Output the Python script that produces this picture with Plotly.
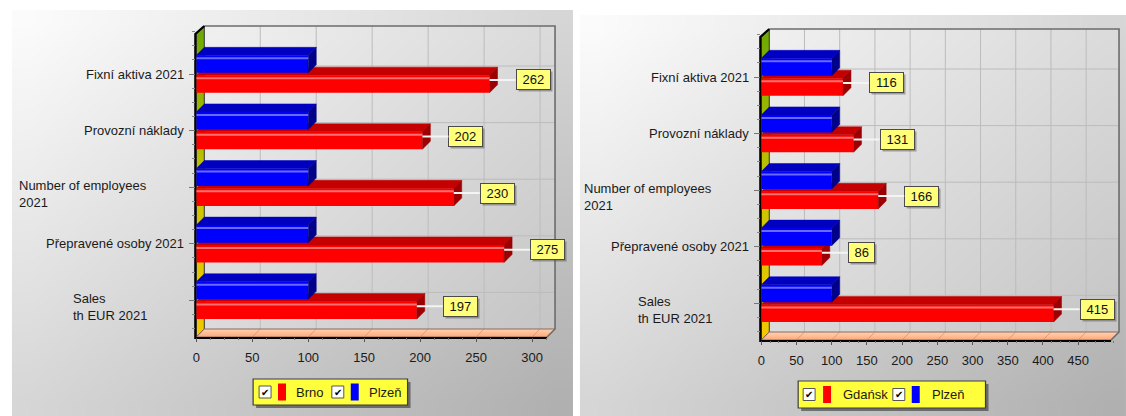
import numpy as np
import plotly.graph_objects as go

W, H = 1126, 416
FONT = "Liberation Sans, Arial, sans-serif"

# ---- data -------------------------------------------------------------
categories = [
    "Fixní aktiva 2021",
    "Provozní náklady",
    "Number of employees<br>2021",
    "Přepravené osoby 2021",
    "Sales<br>th EUR 2021",
]
left_name = "Brno"
right_name = "Gdańsk"
common_name = "Plzeň"
brno_values = [262, 202, 230, 275, 197]
plzen_values_left = [100, 100, 100, 100, 100]
gdansk_values = [116, 131, 166, 86, 415]
plzen_values_right = [100, 100, 100, 100, 100]
left_ticks = [0, 50, 100, 150, 200, 250, 300]
right_ticks = [0, 50, 100, 150, 200, 250, 300, 350, 400, 450]

# ---- styling ----------------------------------------------------------
RED_FRONT, RED_TOP, RED_SIDE, RED_HI = "#ff0000", "#c40000", "#9c0000", "#ff7070"
BLUE_FRONT, BLUE_TOP, BLUE_SIDE, BLUE_HI = "#0000ff", "#0000c0", "#00008a", "#6a6aff"
DEPTH = 8          # 3D depth in pixels
BAR_W = 0.31       # bar thickness in category units
GAP = 0.02         # gap between the two bars of a group

# pixel geometry of the two chart panels
panels = [
    dict(main=(left_name, brno_values), other=(common_name, plzen_values_left),
         ticks=left_ticks, frame=(8, 10, 571, 416), origin=193, floor=337,
         ppu=1.1233, right=553, top=26, c0=74, step=56.6,
         legend=(250, 379, 405, 405), items=[(6, 25, 41), (79, 98, 114)],
         axes=("x2", "y2", "x3", "y3", "x4", "y4")),
    dict(main=(right_name, gdansk_values), other=(common_name, plzen_values_right),
         ticks=right_ticks, frame=(578, 15, 1126, 416), origin=760, floor=340,
         ppu=0.7067, right=1119, top=29, c0=77, step=56.6,
         legend=(797, 381, 985, 408), items=[(5, 25, 43), (95, 114, 132)],
         axes=("x5", "y5", "x6", "y6", "x7", "y7")),
]


def fx(p):
    return p / W


def fy(p):
    return 1 - p / H


def poly_trace(polys, color, xa, ya, line_color=None, line_width=0, gradient=None):
    xs, ys = [], []
    for poly in polys:
        for (x, y) in poly:
            xs.append(x)
            ys.append(y)
        xs += [poly[0][0], None]
        ys += [poly[0][1], None]
    kw = dict(x=xs, y=ys, mode="lines", fill="toself", fillcolor=color,
              line=dict(color=line_color or color, width=line_width),
              hoverinfo="skip", showlegend=False, xaxis=xa, yaxis=ya)
    if gradient is not None:
        kw["fillgradient"] = gradient
    return go.Scatter(**kw)


def line_trace(segments, color, width, xa, ya, dash=None):
    xs, ys = [], []
    for seg in segments:
        for (x, y) in seg:
            xs.append(x)
            ys.append(y)
        xs.append(None)
        ys.append(None)
    return go.Scatter(x=xs, y=ys, mode="lines",
                      line=dict(color=color, width=width, dash=dash),
                      hoverinfo="skip", showlegend=False, xaxis=xa, yaxis=ya)


fig = go.Figure()
layout = dict(
    width=W, height=H, margin=dict(l=0, r=0, t=0, b=0),
    paper_bgcolor="white", plot_bgcolor="rgba(0,0,0,0)",
    showlegend=False, font=dict(family=FONT, size=13, color="#1a1a1a"),
    xaxis=dict(domain=[0, 1], range=[0, W], visible=False, fixedrange=True),
    yaxis=dict(domain=[0, 1], range=[H, 0], visible=False, fixedrange=True),
)
annotations = []
shapes = []

# panel backgrounds (soft diagonal grey gradient)
NG = 16
for p in panels:
    x0, y0, x1, y1 = p["frame"]
    gx = np.linspace(0, 1, NG)
    zz = 0.5 * gx[None, :] + 0.5 * gx[:, None]
    fig.add_trace(go.Heatmap(
        x=np.linspace(x0, x1, NG + 1), y=np.linspace(y0, y1, NG + 1), z=zz,
        zmin=0, zmax=1, zsmooth="best", showscale=False, hoverinfo="skip",
        colorscale=[[0, "#fbfbfb"], [1, "#b0b0b0"]], xaxis="x", yaxis="y"))

for p in panels:
    n = len(categories)
    ox, fl, ppu, br, bt, c0, step = (p["origin"], p["floor"], p["ppu"], p["right"],
                                     p["top"], p["c0"], p["step"])
    xw, yw, xr, yr, xb, yb = p["axes"]

    def xd(px):
        return (px - ox) / ppu

    def yd(py):
        return (n - 1) - (py - c0) / step

    dxu = DEPTH / ppu
    dyu = DEPTH / step
    pos = [n - 1 - i for i in range(n)]
    y_min, y_max = yd(fl), yd(bt)
    x_max = xd(br)
    front_top = yd(bt + DEPTH)
    front_right = xd(br - DEPTH)

    # --- wall subplot: back wall, side wall, floor, grid, frame edges
    pad = 3
    layout["xaxis" + xw[1:]] = dict(domain=[fx(ox - pad), fx(br + pad)],
                                   range=[xd(ox - pad), xd(br + pad)],
                                   visible=False, fixedrange=True, anchor=yw)
    layout["yaxis" + yw[1:]] = dict(domain=[fy(fl + pad), fy(bt - pad)],
                                   range=[yd(fl + pad), yd(bt - pad)],
                                   visible=False, fixedrange=True, anchor=xw)
    gx = np.linspace(0, 1, NG)
    zz = 0.5 * gx[None, :] + 0.5 * (1 - gx[:, None])
    fig.add_trace(go.Heatmap(
        x=np.linspace(dxu, x_max, NG + 1), y=np.linspace(y_min + dyu, y_max, NG + 1),
        z=zz, zmin=0, zmax=1, zsmooth="best", showscale=False, hoverinfo="skip",
        colorscale=[[0, "#efefef"], [1, "#c6c6c6"]], xaxis=xw, yaxis=yw))

    grid = [[(t + dxu, y_min + dyu), (t + dxu, y_max)] for t in p["ticks"] if t > 0]
    grid += [[(dxu, u + dyu), (x_max, u + dyu)] for u in pos]
    fig.add_trace(line_trace(grid, "#bcbcbc", 1, xw, yw))

    # side wall
    fig.add_trace(poly_trace(
        [[(0, y_min), (0, front_top), (dxu, y_max), (dxu, y_min + dyu)]],
        "#c8c400", xw, yw, line_color="#333333", line_width=1,
        gradient=dict(type="vertical",
                      colorscale=[[0, "#f4c800"], [0.5, "#c6c400"], [1, "#6aa800"]])))
    # floor
    fig.add_trace(poly_trace(
        [[(0, y_min), (dxu, y_min + dyu), (x_max, y_min + dyu), (front_right, y_min)]],
        "#ffbe96", xw, yw, line_color="#8a6a5a", line_width=1,
        gradient=dict(type="vertical",
                      colorscale=[[0, "#ffa878"], [1, "#ffd2b4"]])))
    floor_grid = [[(t, y_min), (t + dxu, y_min + dyu)] for t in p["ticks"] if t > 0]
    fig.add_trace(line_trace(floor_grid, "rgba(200,130,90,0.6)", 1, xw, yw))
    # back wall outline
    fig.add_trace(line_trace(
        [[(dxu, y_max), (x_max, y_max), (x_max, y_min + dyu), (front_right, y_min)]],
        "#6c6c6c", 1.6, xw, yw))
    # front edges
    fig.add_trace(line_trace(
        [[(dxu, y_max), (xd(ox - 1), front_top), (xd(ox - 1), yd(fl + 1)),
          (front_right, yd(fl + 1))]],
        "#000000", 2.2, xw, yw))

    # --- bar subplots (main series first, common series drawn above it)
    for (xa, ya, series, front, top, side, hi, below, show_ticks) in [
        (xr, yr, p["main"], RED_FRONT, RED_TOP, RED_SIDE, RED_HI, True, True),
        (xb, yb, p["other"], BLUE_FRONT, BLUE_TOP, BLUE_SIDE, BLUE_HI, False, False),
    ]:
        name, vals = series
        xaxis = dict(domain=[fx(ox), fx(br + pad)], range=[0, xd(br + pad)],
                     fixedrange=True, anchor=ya, showgrid=False, zeroline=False,
                     showline=False)
        yaxis = dict(domain=[fy(fl), fy(bt - pad)], range=[yd(fl), yd(bt - pad)],
                     fixedrange=True, anchor=xa, showgrid=False, zeroline=False,
                     showline=False)
        if show_ticks:
            xaxis.update(tickmode="array", tickvals=p["ticks"], ticks="outside",
                         ticklen=4, tickwidth=1, tickcolor="#555555",
                         ticklabelstandoff=4,
                         tickfont=dict(size=13, color="#1a1a1a", family=FONT),
                         minor=dict(ticks="outside", ticklen=2, dtick=12.5, tick0=0,
                                    tickcolor="#777777"))
            yaxis.update(tickmode="array", tickvals=pos, ticks="outside", ticklen=6,
                         tickcolor="#777777", showticklabels=False,
                         minor=dict(ticks="outside", ticklen=3, dtick=0.25, tick0=0,
                                    tickcolor="#888888"))
        else:
            xaxis.update(visible=False)
            yaxis.update(visible=False)
        layout["xaxis" + xa[1:]] = xaxis
        layout["yaxis" + ya[1:]] = yaxis

        offset = -(GAP + BAR_W) if below else GAP
        fig.add_trace(go.Bar(
            x=vals, y=pos, orientation="h", width=BAR_W, offset=offset, name=name,
            marker=dict(color=front, line=dict(width=0)), xaxis=xa, yaxis=ya,
            hoverinfo="x+name", showlegend=False))
        tops, sides, his = [], [], []
        for v, u in zip(vals, pos):
            yb0 = u + offset
            yt0 = yb0 + BAR_W
            tops.append([(0, yt0), (dxu, yt0 + dyu), (v + dxu, yt0 + dyu), (v, yt0)])
            sides.append([(v, yt0), (v + dxu, yt0 + dyu), (v + dxu, yb0 + dyu), (v, yb0)])
            his.append([(0, yt0 - 3 / step), (v, yt0 - 3 / step)])
        fig.add_trace(poly_trace(tops, top, xa, ya, line_width=0.5))
        fig.add_trace(poly_trace(sides, side, xa, ya, line_width=0.5))
        fig.add_trace(line_trace(his, hi, 2, xa, ya))

        if below:
            # value callouts
            for v, u in zip(vals, pos):
                yc = u + offset + BAR_W / 2 + dyu / 2
                txt = str(v)
                wbox = 7.2 * len(txt) + 7
                common = dict(x=v, y=yc, xref=xa, yref=ya, showarrow=True, ay=0,
                              xanchor="left", arrowhead=0, standoff=0,
                              width=wbox, borderpad=2, borderwidth=1,
                              font=dict(size=13, family=FONT))
                annotations.append(dict(common, text=txt, ax=28, ay=2,
                                        arrowcolor="rgba(0,0,0,0)",
                                        bgcolor="rgba(70,70,70,0.45)",
                                        bordercolor="rgba(0,0,0,0)",
                                        font=dict(size=13, family=FONT,
                                                  color="rgba(0,0,0,0)")))
                annotations.append(dict(common, text=txt, ax=26,
                                        arrowcolor="#f4f4f4", arrowwidth=2,
                                        bgcolor="#ffff7a", bordercolor="#4a4a4a",
                                        font=dict(size=13, family=FONT, color="#111111")))
            # category labels
            for cat, u in zip(categories, pos):
                multi = "<br>" in cat
                annotations.append(dict(
                    x=0, y=u, xref=xa, yref=ya, text=cat, showarrow=False,
                    xanchor="right", yanchor="middle", align="left",
                    xshift=-47 if multi else -10, yshift=-7 if multi else 0,
                    font=dict(size=13, family=FONT, color="#1a1a1a")))

    # --- legend box
    lx0, ly0, lx1, ly1 = p["legend"]
    shapes.append(dict(type="rect", xref="paper", yref="paper",
                       x0=fx(lx0 + 3), x1=fx(lx1 + 3), y0=fy(ly1 + 3), y1=fy(ly0 + 3),
                       fillcolor="rgba(40,40,40,0.55)", line=dict(width=0)))
    shapes.append(dict(type="rect", xref="paper", yref="paper",
                       x0=fx(lx0), x1=fx(lx1), y0=fy(ly1), y1=fy(ly0),
                       fillcolor="#ffff3c", line=dict(color="#3c3c3c", width=1.2)))
    ymid = (ly0 + ly1) / 2
    for (cbx, swx, tx), (name, _), col in zip(p["items"], [p["main"], p["other"]],
                                               [RED_FRONT, BLUE_FRONT]):
        shapes.append(dict(type="rect", xref="paper", yref="paper",
                           x0=fx(lx0 + cbx), x1=fx(lx0 + cbx + 12),
                           y0=fy(ymid + 6), y1=fy(ymid - 6),
                           fillcolor="white", line=dict(color="#555555", width=1)))
        annotations.append(dict(x=fx(lx0 + cbx + 6), y=fy(ymid), xref="paper",
                                yref="paper", text="✔", showarrow=False,
                                xanchor="center", yanchor="middle",
                                font=dict(size=10, family="DejaVu Sans", color="black")))
        shapes.append(dict(type="rect", xref="paper", yref="paper",
                           x0=fx(lx0 + swx), x1=fx(lx0 + swx + 8),
                           y0=fy(ymid + 8.5), y1=fy(ymid - 8.5),
                           fillcolor=col, line=dict(width=0)))
        annotations.append(dict(x=fx(lx0 + tx), y=fy(ymid), xref="paper", yref="paper",
                                text=name, showarrow=False, xanchor="left",
                                yanchor="middle",
                                font=dict(size=13, family=FONT, color="#1a1a1a")))

layout["annotations"] = annotations
layout["shapes"] = shapes
fig.update_layout(**layout)
fig.write_html("out.html")
